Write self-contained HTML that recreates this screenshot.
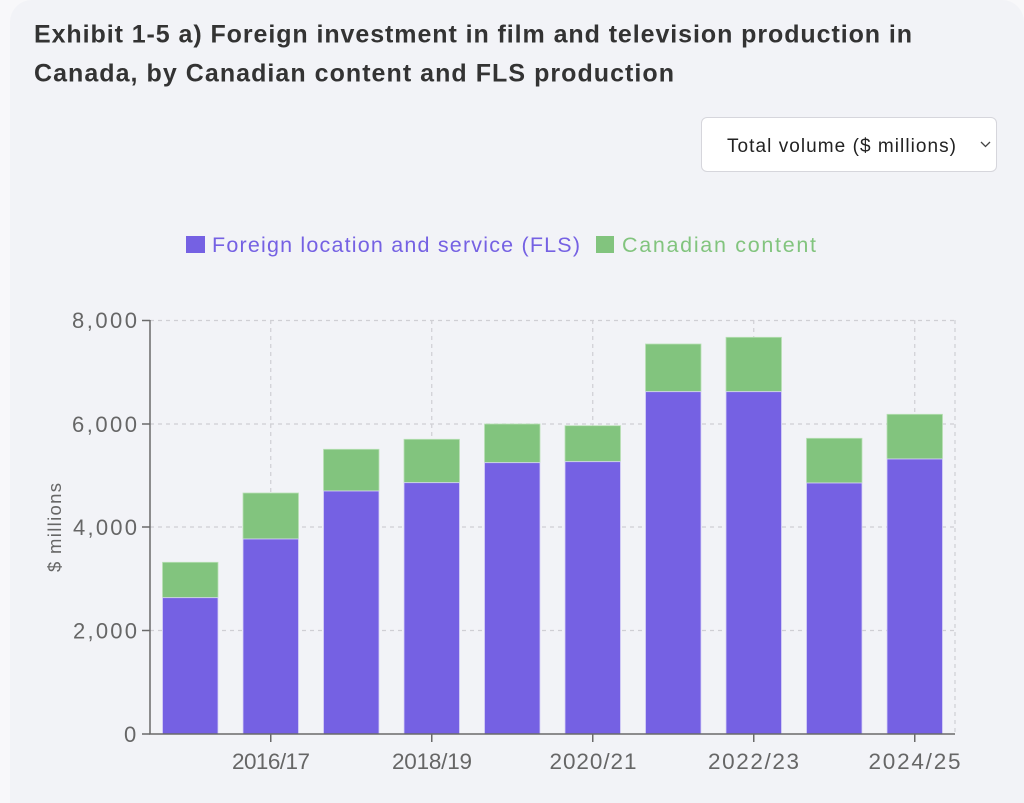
<!DOCTYPE html>
<html><head><meta charset="utf-8"><style>
html,body{margin:0;padding:0;width:1024px;height:803px;overflow:hidden;background:#f8f8fa;font-family:"Liberation Sans",sans-serif;}
.card{position:absolute;left:10px;top:0;width:1014px;height:803px;background:#f2f3f7;border-radius:22px 22px 0 0;}
.dd{position:absolute;left:701px;top:117px;width:296px;height:55px;background:#fff;border:1px solid #d6d6dc;border-radius:6px;box-sizing:border-box;}
</style></head><body>
<div class="card"></div>
<div class="dd">
<svg style="position:absolute;left:0;top:0" width="296" height="55">
<text x="25" y="34" font-family="Liberation Sans, sans-serif" font-size="19" fill="#222" textLength="229" lengthAdjust="spacing">Total volume ($ millions)</text>
<polyline points="279,24 283.5,28.5 288,24" fill="none" stroke="#444" stroke-width="1.3"/>
</svg></div>
<svg style="position:absolute;left:0;top:0" width="1024" height="803">
<g font-family="Liberation Sans, sans-serif" font-weight="bold" font-size="25" fill="#333">
<text x="34" y="42.3" textLength="878" lengthAdjust="spacing">Exhibit 1-5 a) Foreign investment in film and television production in</text>
<text x="34" y="81.7" textLength="640" lengthAdjust="spacing">Canada, by Canadian content and FLS production</text>
</g>
<g font-family="Liberation Sans, sans-serif">
<rect x="186" y="236" width="19" height="17" fill="#7561e3"/>
<text x="212" y="252" font-size="21.5" fill="#7561e3" textLength="368" lengthAdjust="spacing">Foreign location and service (FLS)</text>
<rect x="596" y="236" width="18" height="17" fill="#82c47e"/>
<text x="622" y="252" font-size="21.5" fill="#82c47e" textLength="194" lengthAdjust="spacing">Canadian content</text>
</g>
<g stroke="#cfcfd4" stroke-width="1.2" stroke-dasharray="4,4" fill="none">
<line x1="150" y1="320.5" x2="955" y2="320.5"/>
<line x1="150" y1="424" x2="955" y2="424"/>
<line x1="150" y1="527" x2="955" y2="527"/>
<line x1="150" y1="630.5" x2="955" y2="630.5"/>
<line x1="270.75" y1="320" x2="270.75" y2="734"/>
<line x1="431.75" y1="320" x2="431.75" y2="734"/>
<line x1="592.75" y1="320" x2="592.75" y2="734"/>
<line x1="753.75" y1="320" x2="753.75" y2="734"/>
<line x1="914.75" y1="320" x2="914.75" y2="734"/>
<line x1="955" y1="320" x2="955" y2="734"/>
</g>
<g stroke="#d8d2f7" stroke-width="0.8">
<rect x="162.5" y="562.3" width="55.5" height="35.4" fill="#82c47e" stroke="#b9e0b6"/>
<rect x="162.5" y="597.7" width="55.5" height="136.3" fill="#7561e3"/>
<rect x="243" y="493" width="55.5" height="46" fill="#82c47e" stroke="#b9e0b6"/>
<rect x="243" y="539" width="55.5" height="195" fill="#7561e3"/>
<rect x="323.5" y="449.3" width="55.5" height="41.7" fill="#82c47e" stroke="#b9e0b6"/>
<rect x="323.5" y="491" width="55.5" height="243" fill="#7561e3"/>
<rect x="404" y="439.3" width="55.5" height="43.4" fill="#82c47e" stroke="#b9e0b6"/>
<rect x="404" y="482.7" width="55.5" height="251.3" fill="#7561e3"/>
<rect x="484.5" y="424" width="55.5" height="38.7" fill="#82c47e" stroke="#b9e0b6"/>
<rect x="484.5" y="462.7" width="55.5" height="271.3" fill="#7561e3"/>
<rect x="565" y="425.7" width="55.5" height="36" fill="#82c47e" stroke="#b9e0b6"/>
<rect x="565" y="461.7" width="55.5" height="272.3" fill="#7561e3"/>
<rect x="645.5" y="344" width="55.5" height="47.7" fill="#82c47e" stroke="#b9e0b6"/>
<rect x="645.5" y="391.7" width="55.5" height="342.3" fill="#7561e3"/>
<rect x="726" y="337.3" width="55.5" height="54.4" fill="#82c47e" stroke="#b9e0b6"/>
<rect x="726" y="391.7" width="55.5" height="342.3" fill="#7561e3"/>
<rect x="806.5" y="438.3" width="55.5" height="44.7" fill="#82c47e" stroke="#b9e0b6"/>
<rect x="806.5" y="483" width="55.5" height="251" fill="#7561e3"/>
<rect x="887" y="414.3" width="55.5" height="44.7" fill="#82c47e" stroke="#b9e0b6"/>
<rect x="887" y="459" width="55.5" height="275" fill="#7561e3"/>
</g>
<g stroke="#6a6a6a" stroke-width="1.5">
<line x1="150" y1="320" x2="150" y2="734.5"/>
<line x1="149.3" y1="734" x2="955" y2="734"/>
<line x1="142" y1="320.5" x2="150" y2="320.5"/>
<line x1="142" y1="424" x2="150" y2="424"/>
<line x1="142" y1="527" x2="150" y2="527"/>
<line x1="142" y1="630.5" x2="150" y2="630.5"/>
<line x1="142" y1="734" x2="150" y2="734"/>
<line x1="270.75" y1="734" x2="270.75" y2="742"/>
<line x1="431.75" y1="734" x2="431.75" y2="742"/>
<line x1="592.75" y1="734" x2="592.75" y2="742"/>
<line x1="753.75" y1="734" x2="753.75" y2="742"/>
<line x1="914.75" y1="734" x2="914.75" y2="742"/>
</g>
<g font-family="Liberation Sans, sans-serif" font-size="22" fill="#666">
<text x="72" y="328" textLength="65" lengthAdjust="spacing">8,000</text>
<text x="72" y="432" textLength="65" lengthAdjust="spacing">6,000</text>
<text x="73" y="535" textLength="64" lengthAdjust="spacing">4,000</text>
<text x="73" y="638.5" textLength="64" lengthAdjust="spacing">2,000</text>
<text x="124" y="742" textLength="13" lengthAdjust="spacing">0</text>
</g>
<g font-family="Liberation Sans, sans-serif" font-size="22.5" fill="#666">
<text x="232" y="769" textLength="78" lengthAdjust="spacing">2016/17</text>
<text x="392" y="769" textLength="80" lengthAdjust="spacing">2018/19</text>
<text x="549.5" y="769" textLength="87" lengthAdjust="spacing">2020/21</text>
<text x="708" y="769" textLength="91" lengthAdjust="spacing">2022/23</text>
<text x="868.5" y="769" textLength="92" lengthAdjust="spacing">2024/25</text>
</g>
<text transform="translate(61,572) rotate(-90)" font-family="Liberation Sans, sans-serif" font-size="18.5" fill="#666" textLength="89" lengthAdjust="spacing">$ millions</text>
</svg>
</body></html>
